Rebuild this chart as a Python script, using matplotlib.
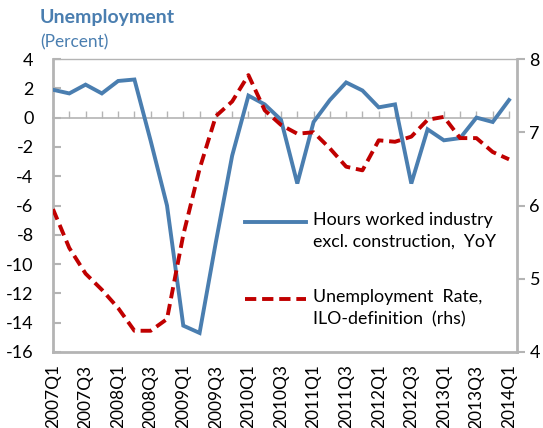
import matplotlib
matplotlib.use("Agg")
import matplotlib.pyplot as plt
from matplotlib.lines import Line2D

plt.rcParams['font.family'] = ['Lato', 'DejaVu Sans']

# Datos trimestrales 2007Q1 - 2014Q1
quarters = [f"{y}Q{q}" for y in range(2007, 2015) for q in range(1, 5)][:29]
hours = [1.9, 1.65, 2.25, 1.65, 2.5, 2.6, -1.6, -6.0, -14.2, -14.7,
         -8.5, -2.6, 1.5, 0.9, -0.15, -4.5, -0.3, 1.2, 2.4, 1.85,
         0.7, 0.9, -4.5, -0.8, -1.55, -1.4, 0.0, -0.3, 1.2]
unemp = [5.95, 5.42, 5.07, 4.85, 4.6, 4.29, 4.29, 4.45, 5.6, 6.5,
         7.22, 7.42, 7.78, 7.3, 7.1, 6.98, 7.0, 6.78, 6.53, 6.48,
         6.89, 6.87, 6.94, 7.17, 7.21, 6.92, 6.92, 6.73, 6.63]
left_ticks = [4, 2, 0, -2, -4, -6, -8, -10, -12, -14, -16]
right_ticks = [4, 5, 6, 7, 8]
label_hours = "Hours worked industry\nexcl. construction,  YoY"
label_unemp = "Unemployment  Rate,\nILO-definition  (rhs)"

W, H = 543, 428
BLUE = '#4A7EB0'
RED = '#C00000'
GRAY = '#B4B4B4'

fig = plt.figure(figsize=(W / 100, H / 100), dpi=100)
ax = fig.add_axes([53 / W, (H - 352) / H, 464 / W, 293 / H])
ax2 = ax.twinx()

x = list(range(len(quarters)))

# Serie principal
ax.plot(x, hours, color=BLUE, lw=2.8, zorder=3, solid_joinstyle='miter')
ax.set_ylim(-16, 4)
ax.set_xlim(0, 28.49)
ax.set_yticks(left_ticks)
ax.set_yticklabels([str(t) for t in left_ticks])

# Eje x cruza en 0
ax.spines['bottom'].set_position(('data', 0))
ax.spines['bottom'].set_bounds(0, 28)
ax.set_xticks(x)
ax.tick_params(axis='x', direction='in', length=5, width=1, color=GRAY,
               labelbottom=False)
ax.tick_params(axis='y', direction='in', length=6, width=1.5, color=GRAY,
               labelsize=13, pad=14)
for s in ['bottom', 'top', 'left', 'right']:
    ax.spines[s].set_color(GRAY)
ax.spines['left'].set_linewidth(2)
ax.spines['top'].set_linewidth(1)
ax.spines['bottom'].set_linewidth(1.2)
ax.spines['right'].set_visible(False)

# Etiquetas del eje x abajo
sec = ax.secondary_xaxis('bottom')
sec.set_xticks(x[::2])
sec.set_xticklabels(quarters[::2], rotation=90, fontsize=12.5)
sec.tick_params(length=0, pad=9)
sec.spines['bottom'].set_color(GRAY)
sec.spines['bottom'].set_linewidth(2)

# Serie secundaria
ax2.plot(x, unemp, color=RED, lw=2.8, dashes=(2.9, 1.5), dash_capstyle='butt')
ax2.set_ylim(4, 8)
ax2.set_yticks(right_ticks)
ax2.tick_params(axis='y', direction='out', length=6, width=1.5, color=GRAY,
                labelsize=13, pad=3)
for s in ['bottom', 'top', 'left']:
    ax2.spines[s].set_visible(False)
ax2.spines['right'].set_color(GRAY)
ax2.spines['right'].set_linewidth(2)

# Titulo
fig.text(40 / W, 1 - 18 / H, "Unemployment", color=BLUE, fontsize=14,
         fontweight='bold', va='center', ha='left')
fig.text(40 / W, 1 - 42 / H, "(Percent)", color=BLUE, fontsize=12.4,
         va='center', ha='left')

# Leyenda manual
for yy, col, dash, lab in [(222, BLUE, None, label_hours),
                            (299, RED, (2.9, 1.5), label_unemp)]:
    ln = Line2D([245 / W, 306 / W], [1 - yy / H, 1 - yy / H], color=col,
                lw=2.8, transform=fig.transFigure)
    if dash:
        ln.set_dashes(dash)
        ln.set_dash_capstyle('butt')
    fig.add_artist(ln)
    fig.text(313 / W, 1 - (yy - 10) / H, lab, fontsize=12.8, va='top',
             ha='left', linespacing=1.45)

fig.savefig("out.png", dpi=100)
